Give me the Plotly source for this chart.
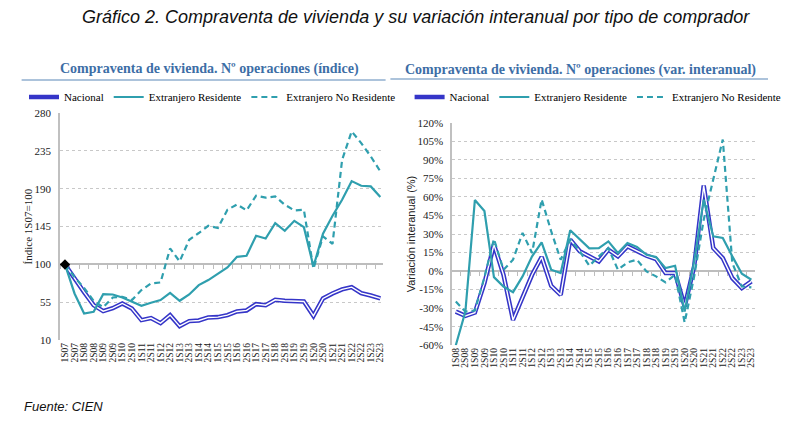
import plotly.graph_objects as go

# --- data ---------------------------------------------------------------
periodos_idx = [f"{s}S{y:02d}" for y in range(7, 24) for s in (1, 2)]  # 1S07..2S23
periodos_var = periodos_idx[2:]  # 1S08..2S23

# indice 1S07=100
nacional_idx = [100, 83, 67, 51.6, 44.5, 48, 53.6, 47.7, 33.8, 36.2, 30.2, 39.7,
                26.6, 32.6, 33.4, 37, 37.4, 39.7, 44.1, 45.3, 52.8, 51.6, 58, 56.8,
                56.8, 56, 38.9, 59.6, 65.5, 70.3, 73, 65.9, 63.1, 59.6]
residente_idx = [100, 65.5, 41.7, 43.7, 64.7, 64.3, 60.7, 55.6, 50.8, 54.4, 57.6, 66.3,
                 56.8, 64.3, 75.4, 81.4, 88.5, 96.4, 109.1, 110.3, 134.1, 130.9, 149.2, 140,
                 151.9, 144.4, 97.6, 136.5, 157.9, 176.9, 199.1, 193.6, 192.8, 180.1]
no_residente_idx = [100, 85, 72, 56.8, 49, 60.7, 61.5, 57.6, 69.5, 77.4, 78.6, 119,
                    103.6, 129.4, 137.4, 146, 143.3, 165, 171.4, 164.3, 181.8, 179.4, 180.9, 171,
                    164.3, 165, 94.9, 133.4, 124.6, 224.4, 258.2, 244.3, 228.5, 210.6]

# variacion interanual (%)
nacional_var = [-32.8, -36.3, -33.6, -9.8, 21.4, -3, -39.6, -20.6, -3, 11.4, -11.9, -19.3,
                25.5, 16, 11.9, 7.8, 17.3, 11.9, 20, 15.9, 12.4, 9.7, -1.6, -1.6,
                -28.6, 3.8, 69.2, 18.6, 10.5, -5.7, -13.8, -8.4]
residente_var = [-60, -33, 57.5, 48.6, -4.9, -12.5, -17.1, -4.3, 11.9, 23.3, 1.1, -1.6,
                 33.1, 25.5, 18.4, 18.6, 24, 14.6, 22.7, 19.5, 13.2, 11.4, 2.4, 4.3,
                 -32.7, 7.8, 57.8, 28.1, 26.8, 11.9, -2.2, -7]
no_residente_var = [-24.7, -32.8, -32, -5, 26, 1, 9.2, 30.9, 14.6, 58, 32.3, 9.2,
                    25.5, 16, 4.3, 11.9, 18.6, 1.1, 7, 9.2, -0.3, -4.3, -9.2, -3,
                    -41.6, -4.3, 41.6, 74, 106.5, 6.5, -12.4, -13.2]

ticks_idx = [10, 55, 100, 145, 190, 235, 280]
ticks_var = list(range(-60, 121, 15))
base_idx = 100   # horizontal axis crosses here on each panel
base_var = 0

# --- styles -------------------------------------------------------------
AZUL = "#3535c8"
TEAL = "#2f9fae"
TIT = "#3d6ea6"
GRIS = "#bdbdbd"
SERIF = "Liberation Serif"
SANS = "Liberation Sans"

dom_x1, dom_y1, rng_x1, rng_y1 = [0.075, 0.479], [0.194, 0.732], [-0.52, 33.3], [10, 280]
dom_x2, dom_y2, rng_x2, rng_y2 = [0.565, 0.944], [0.182, 0.709], [-0.4, 31.4], [-60, 120]


def cross_pos(dom, rng, v):
    return dom[0] + (dom[1] - dom[0]) * (v - rng[0]) / (rng[1] - rng[0])


fig = go.Figure()


def add_series(x, nac, res, nores, xa, ya, leg, xcross):
    # invisible copy so the crossing axis (line + ticks) gets drawn
    fig.add_trace(go.Scatter(x=list(range(len(x))), y=nac, mode="lines",
                             line=dict(width=0), opacity=0, showlegend=False,
                             hoverinfo="skip", xaxis=xcross, yaxis=ya))
    fig.add_trace(go.Scatter(x=x, y=nac, name="Nacional", mode="lines",
                             line=dict(color=AZUL, width=4.5), xaxis=xa, yaxis=ya,
                             legend=leg))
    fig.add_trace(go.Scatter(x=x, y=nac, mode="lines", showlegend=False,
                             line=dict(color="white", width=1.4), xaxis=xa, yaxis=ya,
                             hoverinfo="skip"))
    fig.add_trace(go.Scatter(x=x, y=res, name="Extranjero Residente", mode="lines",
                             line=dict(color=TEAL, width=2.2), xaxis=xa, yaxis=ya,
                             legend=leg))
    fig.add_trace(go.Scatter(x=x, y=nores, name="Extranjero No Residente", mode="lines",
                             line=dict(color=TEAL, width=2.2, dash="6px,4px"), xaxis=xa,
                             yaxis=ya, legend=leg))


add_series(periodos_idx, nacional_idx, residente_idx, no_residente_idx, "x", "y", "legend", "x3")
add_series(periodos_var, nacional_var, residente_var, no_residente_var, "x2", "y2", "legend2", "x4")

# base point marker
fig.add_trace(go.Scatter(x=periodos_idx[:1], y=nacional_idx[:1], mode="markers",
                         showlegend=False, cliponaxis=False,
                         marker=dict(symbol="diamond", color="black", size=8),
                         xaxis="x", yaxis="y"))

xcommon = dict(type="category", tickangle=-90, showgrid=False, ticks="",
               tickmode="linear", dtick=1, automargin=False,
               tickfont=dict(family=SERIF, size=9.5, color="#222"), showline=False,
               zeroline=False)
ycommon = dict(showgrid=True, gridcolor="#c8c8c8", griddash="dot", gridwidth=1,
               showline=True, linecolor="#c0c0c0", linewidth=1.5, ticks="",
               automargin=False, ticklabelstandoff=5, zeroline=False,
               tickfont=dict(family=SERIF, size=11, color="#222"))
# axis line with tick marks drawn where the value axis crosses (labels stay at the bottom)
crosscommon = dict(type="linear", anchor="free", showline=True, linecolor=GRIS,
                   linewidth=1.5, ticks="outside", ticklen=4, tickcolor=GRIS,
                   tick0=-0.5, dtick=1, showticklabels=False, showgrid=False,
                   zeroline=False, automargin=False, layer="below traces")
legcommon = dict(orientation="h", xanchor="left", yanchor="middle", y=1 - 97 / 422,
                 font=dict(family=SERIF, size=11, color="black"),
                 bgcolor="rgba(0,0,0,0)", itemwidth=30)

fig.update_layout(
    width=800, height=422,
    margin=dict(l=0, r=0, t=0, b=0, autoexpand=False),
    paper_bgcolor="white", plot_bgcolor="white",
    showlegend=True,
    xaxis=dict(domain=dom_x1, range=rng_x1, anchor="y", **xcommon),
    yaxis=dict(domain=dom_y1, range=rng_y1, tickvals=ticks_idx, anchor="x",
               title=dict(text="Índice 1S07=100", font=dict(family=SERIF, size=11, color="#222"),
                          standoff=0),
               **ycommon),
    xaxis2=dict(domain=dom_x2, range=rng_x2, anchor="y2", **xcommon),
    yaxis2=dict(domain=dom_y2, range=rng_y2, tickvals=ticks_var,
                ticktext=[f"{v}%" for v in ticks_var], anchor="x2",
                title=dict(text="Variación interanual (%)",
                           font=dict(family=SANS, size=11, color="#222"), standoff=0),
                **ycommon),
    xaxis3=dict(overlaying="x", domain=dom_x1, range=rng_x1,
                position=cross_pos(dom_y1, rng_y1, base_idx), **crosscommon),
    xaxis4=dict(overlaying="x2", domain=dom_x2, range=rng_x2,
                position=cross_pos(dom_y2, rng_y2, base_var), **crosscommon),
    legend=dict(x=0.03, **legcommon),
    legend2=dict(x=0.512, **legcommon),
)

# header rules under the panel titles
fig.add_shape(type="line", xref="paper", yref="paper", x0=0.027, x1=0.482,
              y0=1 - 80 / 422, y1=1 - 80 / 422, line=dict(color="#5b87b8", width=1.2))
fig.add_shape(type="line", xref="paper", yref="paper", x0=0.488, x1=0.96,
              y0=1 - 79 / 422, y1=1 - 79 / 422, line=dict(color="#5b87b8", width=1.2))

ann = dict(xref="paper", yref="paper", showarrow=False, xanchor="center", yanchor="middle")
fig.add_annotation(text="Gráfico 2. Compraventa de vivienda y su variación interanual por tipo de comprador",
                   x=0.52, y=1 - 17 / 422,
                   font=dict(family=SANS, size=18, color="#111", style="italic"), **ann)
fig.add_annotation(text="<b>Compraventa de vivienda. Nº operaciones (índice)</b>",
                   x=0.262, y=1 - 69 / 422, font=dict(family=SERIF, size=14, color=TIT), **ann)
fig.add_annotation(text="<b>Compraventa de vivienda. Nº operaciones (var. interanual)</b>",
                   x=0.726, y=1 - 70 / 422, font=dict(family=SERIF, size=14, color=TIT), **ann)
fig.add_annotation(text="Fuente: CIEN", xref="paper", yref="paper", x=0.027,
                   y=1 - 406 / 422, xanchor="left", yanchor="middle", showarrow=False,
                   font=dict(family=SANS, size=13, color="#111", style="italic"))

fig.write_html("out.html", config={"displayModeBar": False},
               post_script="document.body.style.margin = '0';")
